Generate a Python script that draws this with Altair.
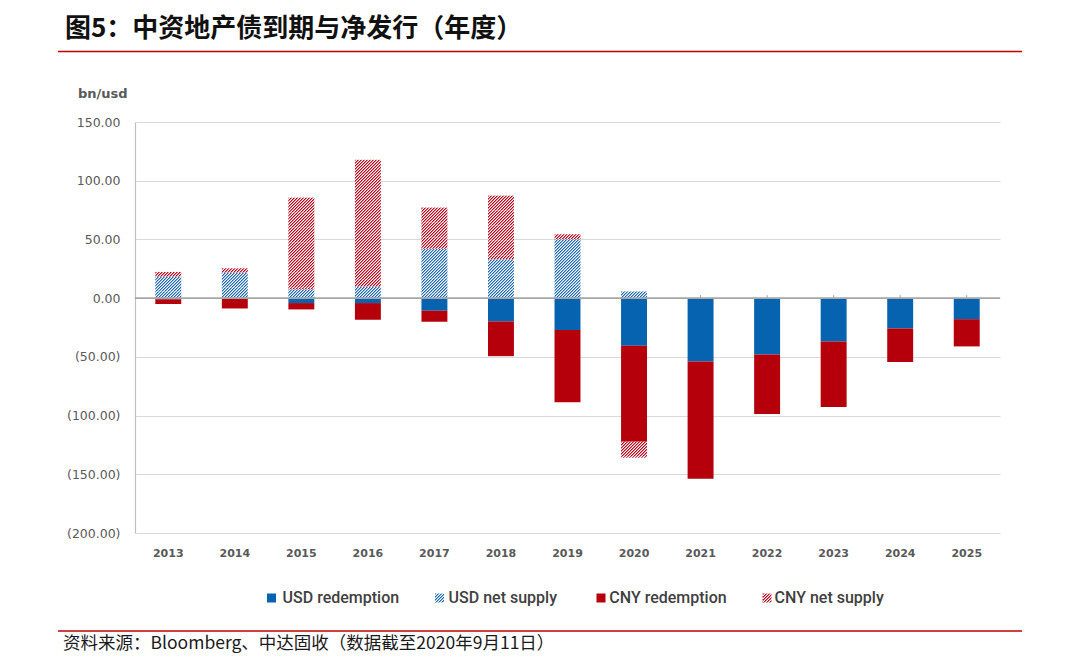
import math
import altair as alt
import pandas as pd

# ---------------- data ----------------
years = ["2013", "2014", "2015", "2016", "2017", "2018", "2019",
         "2020", "2021", "2022", "2023", "2024", "2025"]
series_names = ["USD redemption", "USD net supply", "CNY redemption", "CNY net supply"]
usd_redemption = [-1.0, -0.3, -4.2, -4.2, -10.7, -19.8, -27.2, -40.5, -53.9, -47.9, -36.9, -25.8, -17.9]
usd_net_supply = [18.4, 21.8, 7.6, 9.9, 42.1, 33.1, 50.2, 5.7, 0, 0, 0, 0, 0]
cny_redemption = [-4.0, -8.5, -5.4, -14.2, -9.4, -29.6, -61.5, -81.7, -99.8, -50.8, -55.8, -28.6, -23.2]
cny_net_supply = [3.9, 3.6, 78.0, 107.9, 35.0, 54.2, 4.2, -13.6, 0, 0, 0, 0, 0]
y_ticks = [-200, -150, -100, -50, 0, 50, 100, 150]

title_text = "图5：中资地产债到期与净发行（年度）"
unit_text = "bn/usd"
source_text = "资料来源：Bloomberg、中达固收（数据截至2020年9月11日）"

# ---------------- stacking (positive / negative separately) ----------------
values_by_series = [usd_redemption, usd_net_supply, cny_redemption, cny_net_supply]
rows = []
for i, yr in enumerate(years):
    pos, neg = 0.0, 0.0
    for name, vals in zip(series_names, values_by_series):
        v = vals[i]
        if v == 0:
            continue
        if v > 0:
            y0, y1 = pos, pos + v
            pos = y1
        else:
            y0, y1 = neg, neg + v
            neg = y1
        rows.append({"year": yr, "series": name, "value": v, "y0": y0, "y1": y1})
df = pd.DataFrame(rows)

# ---------------- layout / style ----------------
W, H = 865, 411
Y_MIN, Y_MAX = -200, 150
PX_PER_UNIT = H / (Y_MAX - Y_MIN)
PAD_IN, PAD_OUT = 0.61, 0.305
STEP = W / (len(years) - PAD_IN + 2 * PAD_OUT)
BAR_W = STEP * (1 - PAD_IN)
HATCH_PERIOD = 3.0          # horizontal pixel period of hatch stripes
SEG_PX = 15.0               # hatched bars are drawn in slices of this pixel height
SEG_U = SEG_PX / PX_PER_UNIT

BLUE = "#0563B0"
RED = "#B5000C"
BLUE_HATCH = "#1A68B5"
BLUE_TINT = "#8DB4DA"
RED_HATCH = "#BE0018"
RED_TINT = "#DE808B"


def hatch(color, tint, w, h, period=HATCH_PERIOD, bg="#ffffff"):
    """Linear gradient with hard stops rendering as 45deg '/' hatching.
    Each period has three equal bands (colour, tint, background) so that
    pixel sampling always hits each band exactly once (no moire)."""
    n = int(math.ceil((w + h) / period))
    k = n * period / (w * w + h * h)
    stops = []
    for j in range(n):
        o = [j / n, (j + 1 / 3) / n, (j + 2 / 3) / n, (j + 1) / n]
        for (a, b), c in zip([(o[0], o[1]), (o[1], o[2]), (o[2], o[3])], [color, tint, bg]):
            stops += [{"offset": a, "color": c}, {"offset": b, "color": c}]
    return {"gradient": "linear", "x1": 0, "y1": 0, "x2": w * k, "y2": h * k, "stops": stops}


# slice hatched segments from their top edge downwards so stripe phase is continuous
hatched = df[df["series"].isin(["USD net supply", "CNY net supply"])]
full_slices = {"USD net supply": [], "CNY net supply": []}
part_slices = []
for _, r in hatched.iterrows():
    top = max(r["y0"], r["y1"])
    bot = min(r["y0"], r["y1"])
    cur = top
    while cur - SEG_U > bot + 1e-9:
        full_slices[r["series"]].append({"year": r["year"], "y0": cur, "y1": cur - SEG_U})
        cur -= SEG_U
    part_slices.append({"year": r["year"], "series": r["series"], "y0": cur, "y1": bot})

xscale = alt.Scale(domain=years, paddingInner=PAD_IN, paddingOuter=PAD_OUT)
yscale = alt.Scale(domain=[Y_MIN, Y_MAX], nice=False, zero=False)

x_enc = alt.X(
    "year:N", scale=xscale, sort=years, title=None,
    axis=alt.Axis(labelAngle=0, domain=False, ticks=False, labelFont="DejaVu Sans",
                  labelFontSize=11, labelFontWeight="bold", labelColor="#595959",
                  labelPadding=14),
)
y_axis = alt.Axis(values=y_ticks, grid=True, gridColor="#D9D9D9", gridWidth=1,
                  domain=True, domainColor="#BFBFBF", domainWidth=1.2, ticks=False,
                  labelFont="DejaVu Sans", labelFontSize=12.5, labelColor="#595959",
                  labelPadding=15,
                  labelExpr="datum.value < 0 ? '(' + format(-datum.value, '.2f') + ')' : format(datum.value, '.2f')")
y_enc = alt.Y("y0:Q", scale=yscale, axis=y_axis, title=None)
y2_enc = alt.Y2("y1:Q")

layers = []

# small tick marks on the zero line at each category
tick_df = pd.DataFrame({"year": years})
layers.append(
    alt.Chart(tick_df).mark_rule(color="#A6A6A6", strokeWidth=1).encode(
        x=x_enc, y=alt.Y(datum=0, scale=yscale, axis=y_axis, title=None), y2=alt.Y2(datum=2.6)
    )
)

# solid bars
solid = df[df["series"].isin(["USD redemption", "CNY redemption"])]
layers.append(
    alt.Chart(solid).mark_bar().encode(
        x=x_enc, y=y_enc, y2=y2_enc,
        color=alt.Color("series:N",
                        scale=alt.Scale(domain=["USD redemption", "CNY redemption"], range=[BLUE, RED]),
                        legend=None),
    )
)

# hatched bars
hatch_col = {"USD net supply": (BLUE_HATCH, BLUE_TINT), "CNY net supply": (RED_HATCH, RED_TINT)}
for name, sl in full_slices.items():
    if sl:
        c, t = hatch_col[name]
        layers.append(
            alt.Chart(pd.DataFrame(sl)).mark_bar().encode(
                x=x_enc, y=y_enc, y2=y2_enc, color=alt.value(hatch(c, t, BAR_W, SEG_PX))
            )
        )
for p in part_slices:
    h_px = abs(p["y0"] - p["y1"]) * PX_PER_UNIT
    c, t = hatch_col[p["series"]]
    layers.append(
        alt.Chart(pd.DataFrame([p])).mark_bar().encode(
            x=x_enc, y=y_enc, y2=y2_enc, color=alt.value(hatch(c, t, BAR_W, h_px))
        )
    )

# zero line on top
layers.append(
    alt.Chart(alt.Data(values=[{}])).mark_rule(color="#A6A6A6", strokeWidth=1.6).encode(
        y=alt.Y(datum=0, scale=yscale, axis=y_axis, title=None)
    )
)

one = alt.Data(values=[{}])

# title, unit, source, red separator lines
layers.append(alt.Chart(one).mark_text(align="left", baseline="middle", font="Noto Sans CJK SC",
                                       fontSize=26, fontWeight="bold", color="#111111").encode(
    x=alt.value(-70), y=alt.value(-93), text=alt.value(title_text)))
layers.append(alt.Chart(one).mark_rule(color="#C00000", strokeWidth=1.6).encode(
    x=alt.value(-77), x2=alt.value(887), y=alt.value(-70.5)))
layers.append(alt.Chart(one).mark_text(align="left", baseline="middle", font="DejaVu Sans",
                                       fontSize=13, fontWeight="bold", color="#595959").encode(
    x=alt.value(-57), y=alt.value(-28), text=alt.value(unit_text)))
layers.append(alt.Chart(one).mark_rule(color="#C00000", strokeWidth=1.6).encode(
    x=alt.value(-77), x2=alt.value(887), y=alt.value(509)))
layers.append(alt.Chart(one).mark_text(align="left", baseline="middle", font="Noto Sans CJK SC",
                                       fontSize=17.5, color="#1a1a1a").encode(
    x=alt.value(-72), y=alt.value(522), text=alt.value(source_text)))

# custom legend
legend_items = [
    ("USD redemption", BLUE, None, 132, 147.6),
    ("USD net supply", BLUE_HATCH, BLUE_TINT, 300, 313.6),
    ("CNY redemption", RED, None, 461.5, 474.3),
    ("CNY net supply", RED_HATCH, RED_TINT, 627.5, 639.6),
]
SQ = 9
LEG_Y = 476
for name, col, tint, sx, tx in legend_items:
    fill = hatch(col, tint, SQ, SQ) if tint else col
    layers.append(alt.Chart(one).mark_rect().encode(
        x=alt.value(sx), x2=alt.value(sx + SQ), y=alt.value(LEG_Y - SQ / 2), y2=alt.value(LEG_Y + SQ / 2),
        color=alt.value(fill)))
    layers.append(alt.Chart(one).mark_text(align="left", baseline="middle", font="Roboto",
                                           fontSize=16, fontWeight=500, color="#404040").encode(
        x=alt.value(tx), y=alt.value(LEG_Y), text=alt.value(name)))

chart = alt.layer(*layers).properties(
    width=W, height=H,
    padding={"left": 127, "top": 114, "right": 70, "bottom": 123},
    autosize=alt.AutoSizeParams(type="none"),
    background="white",
).configure_view(stroke=None)

chart.save("out.html", embed_options={"renderer": "svg", "actions": False})
